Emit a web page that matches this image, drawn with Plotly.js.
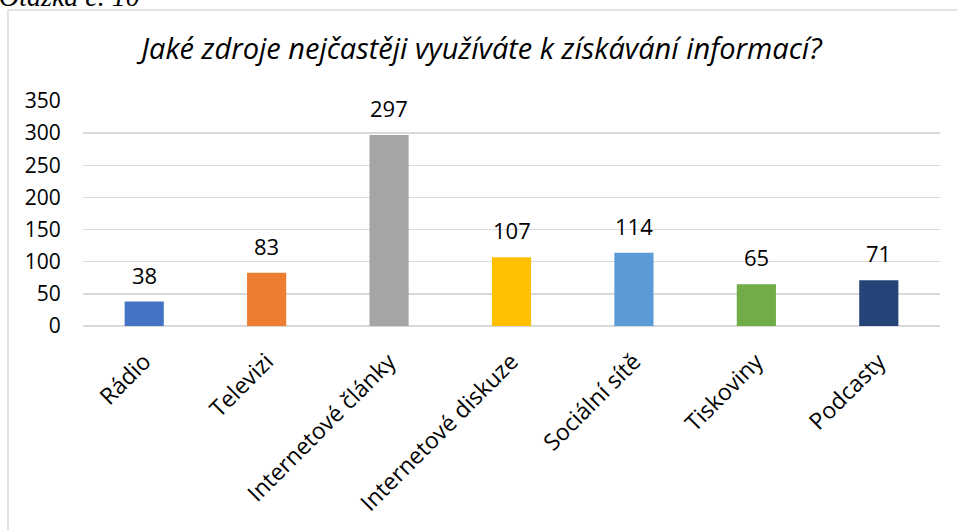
<!DOCTYPE html>
<html>
<head>
<meta charset="utf-8">
<script src="https://cdn.plot.ly/plotly-3.0.1.min.js"></script>
<style>html,body{margin:0;padding:0;background:#fff;}#chart{width:957px;height:530px;}</style>
</head>
<body>
<div id="chart"></div>
<script>
const categories = ["Rádio", "Televizi", "Internetové články", "Internetové diskuze", "Sociální sítě", "Tiskoviny", "Podcasty"];
const values = [38, 83, 297, 107, 114, 65, 71];
const barColors = ["#4472C4", "#ED7D31", "#A5A5A5", "#FFC000", "#5B9BD5", "#70AD47", "#264478"];
const yTicks = [0, 50, 100, 150, 200, 250, 300, 350];
const chartTitle = "Jaké zdroje nejčastěji využíváte k získávání informací?";
const headerText = "Otázka č. 10";

const FONT = "'Open Sans', 'Noto Sans', sans-serif";

const trace = {
  type: "bar",
  x: categories,
  y: values,
  marker: {color: barColors},
  width: 0.32,
  hoverinfo: "x+y"
};

const labelAnns = categories.map((c, i) => ({
  x: c, y: values[i], xref: "x", yref: "y",
  text: String(values[i]), showarrow: false,
  yanchor: "bottom", yshift: 10,
  font: {family: FONT, size: 22, color: "#000"}
}));

const layout = {
  width: 957, height: 530,
  margin: {l: 83, r: 17, t: 101, b: 204},
  paper_bgcolor: "#fff", plot_bgcolor: "#fff",
  showlegend: false,
  bargap: 0.68,
  title: {
    text: chartTitle,
    font: {family: FONT, size: 29, color: "#000", style: "italic"},
    xref: "container", x: 0.503, xanchor: "center",
    yref: "container", y: 1 - 49/530, yanchor: "middle"
  },
  xaxis: {
    type: "category",
    tickangle: -45,
    tickfont: {family: FONT, size: 23, color: "#000"},
    showgrid: false, zeroline: false, showline: false,
    ticks: "outside", ticklen: 12, tickcolor: "rgba(0,0,0,0)"
  },
  yaxis: {
    range: [0, 350],
    tickvals: yTicks,
    ticktext: yTicks.map(String),
    tickfont: {family: FONT, size: 21, color: "#000"},
    showgrid: true, gridcolor: "#d9d9d9", gridwidth: 1.5,
    zeroline: true, zerolinecolor: "#d9d9d9", zerolinewidth: 1.5,
    showline: false,
    ticks: "outside", ticklen: 17, tickcolor: "rgba(0,0,0,0)"
  },
  shapes: [{
    type: "rect", xref: "paper", yref: "paper",
    x0: (8 - 83) / 857, x1: 1.2,
    y0: (326 - 560) / 225, y1: (326 - 10) / 225,
    line: {color: "#d9d9d9", width: 1.5},
    fillcolor: "rgba(0,0,0,0)", layer: "below"
  }],
  annotations: labelAnns.concat([{
    xref: "paper", yref: "paper",
    x: (-3 - 83) / 857, y: (326 + 4) / 225,
    xanchor: "left", yanchor: "middle",
    text: headerText, showarrow: false,
    font: {family: "'Liberation Serif', 'Times New Roman', serif", size: 28, color: "#000", style: "italic"}
  }])
};

Plotly.newPlot("chart", [trace], layout, {displayModeBar: false, staticPlot: true});
</script>
</body>
</html>
